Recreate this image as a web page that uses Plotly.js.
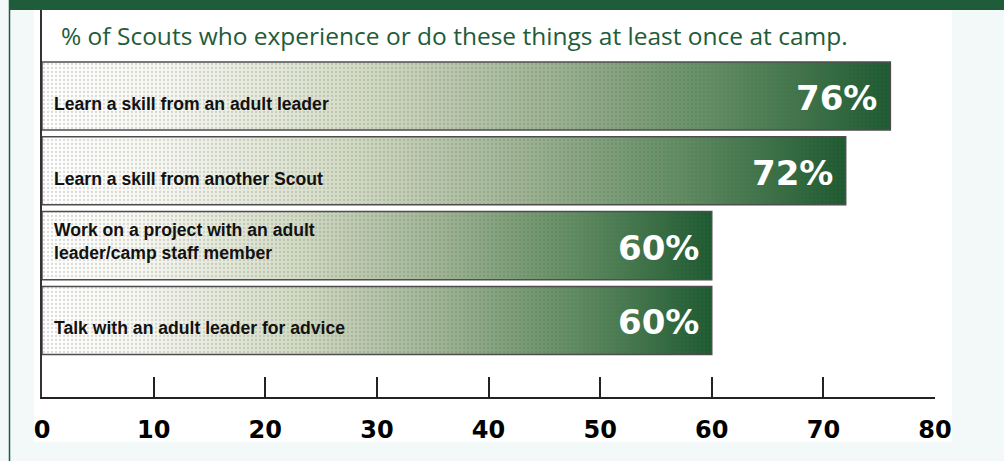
<!DOCTYPE html>
<html>
<head>
<meta charset="utf-8">
<script src="https://cdn.plot.ly/plotly-3.0.1.min.js"></script>
<style>html,body{margin:0;padding:0;background:#f3f8f8;}#chart{width:1004px;height:461px;}</style>
</head>
<body>
<div id="chart"></div>
<script>
// ---- data ----
const categories = [
  "Learn a skill from an adult leader",
  "Learn a skill from another Scout",
  "Work on a project with an adult<br>leader/camp staff member",
  "Talk with an adult leader for advice"
];
const values = [76, 72, 60, 60];
const valueLabels = ["76%", "72%", "60%", "60%"];
const tickValues = [0, 10, 20, 30, 40, 50, 60, 70, 80];
const tickLabels = ["0", "10", "20", "30", "40", "50", "60", "70", "80"];
const chartTitle = "% of Scouts who experience or do these things at least once at camp.";

// ---- styles ----
const GREEN = "#1e5c3a";
const HALF = 0.455; // half bar thickness in category units
const gradientScale = [
  [0, "#ffffff"], [0.15, "#f6f7f0"], [0.38, "#d3dbc4"],
  [0.6, "#9db392"], [0.8, "#5f8c60"], [1, "#1c5a2f"]
];

function barPolygon(i, v) {
  return {
    x: [0, v, v, 0, 0],
    y: [i - HALF, i - HALF, i + HALF, i + HALF, i - HALF]
  };
}

const traces = [];
values.forEach((v, i) => {
  const p = barPolygon(i, v);
  traces.push({
    type: "scatter", mode: "lines", x: p.x, y: p.y, fill: "toself",
    fillgradient: { type: "horizontal", colorscale: gradientScale },
    line: { color: "#4d4d4d", width: 1.5 },
    hoverinfo: "skip", showlegend: false
  });
  traces.push({
    type: "scatter", mode: "lines", x: p.x, y: p.y, fill: "toself",
    fillcolor: "rgba(0,0,0,0)",
    fillpattern: { shape: ".", fgcolor: "rgba(90,90,90,0.22)", bgcolor: "rgba(0,0,0,0)", size: 4, solidity: 0.25 },
    line: { color: "rgba(0,0,0,0)", width: 0 },
    hoverinfo: "skip", showlegend: false
  });
});

const annotations = [];
categories.forEach((c, i) => {
  annotations.push({
    x: 0, y: i, xref: "x", yref: "y", text: c, showarrow: false,
    xanchor: "left", yanchor: "middle", align: "left", xshift: 10,
    yshift: c.indexOf("<br>") >= 0 ? 4 : -8,
    font: { family: "Liberation Sans, Arial, sans-serif", size: 17.6, color: "#111", weight: "bold" }
  });
  annotations.push({
    x: values[i], y: i, xref: "x", yref: "y", text: valueLabels[i], showarrow: false,
    xanchor: "right", yanchor: "middle", xshift: -11, yshift: -2,
    font: { family: "DejaVu Sans, sans-serif", size: 34, color: "#ffffff", weight: "bold" }
  });
});

// paper-coordinate helpers for decorative panels (plot area 42..935 x 10..397 px)
const px = (p) => (p - 42) / 893;
const py = (p) => (397 - p) / 387;

const layout = {
  width: 1004, height: 461,
  margin: { l: 42, r: 69, t: 10, b: 64, pad: 0 },
  paper_bgcolor: "#f3f8f8",
  plot_bgcolor: "rgba(0,0,0,0)",
  showlegend: false,
  title: {
    text: chartTitle,
    x: px(61), xref: "paper", xanchor: "left",
    y: 1 - 36 / 461, yref: "container", yanchor: "middle",
    font: { family: "Open Sans, sans-serif", size: 24.5, color: GREEN }
  },
  xaxis: {
    range: [0, 80], tickmode: "array", tickvals: tickValues, ticktext: tickLabels,
    showgrid: false, zeroline: false, showline: true, linecolor: "#222", linewidth: 2,
    ticks: "inside", ticklen: 20, tickwidth: 2, tickcolor: "#222",
    ticklabelstandoff: 10,
    tickfont: { family: "DejaVu Sans, sans-serif", size: 24, color: "#000", weight: "bold" },
    fixedrange: true
  },
  yaxis: {
    range: [4.024, -1.15], showticklabels: false, showgrid: false, zeroline: false,
    showline: true, linecolor: "#333", linewidth: 2, ticks: "", fixedrange: true
  },
  shapes: [
    { type: "rect", xref: "paper", yref: "paper", x0: px(34), x1: px(952), y0: py(442), y1: py(10),
      fillcolor: "#ffffff", line: { width: 0 }, layer: "below" },
    { type: "rect", xref: "paper", yref: "paper", x0: px(9), x1: px(1004), y0: py(10), y1: py(0),
      fillcolor: GREEN, line: { width: 0 }, layer: "below" },
    { type: "line", xref: "paper", yref: "paper", x0: px(9.5), x1: px(9.5), y0: py(461), y1: py(0),
      line: { color: GREEN, width: 1.5 }, layer: "below" }
  ],
  annotations: annotations
};

Plotly.newPlot("chart", traces, layout, { displayModeBar: false, staticPlot: true });
</script>
</body>
</html>
